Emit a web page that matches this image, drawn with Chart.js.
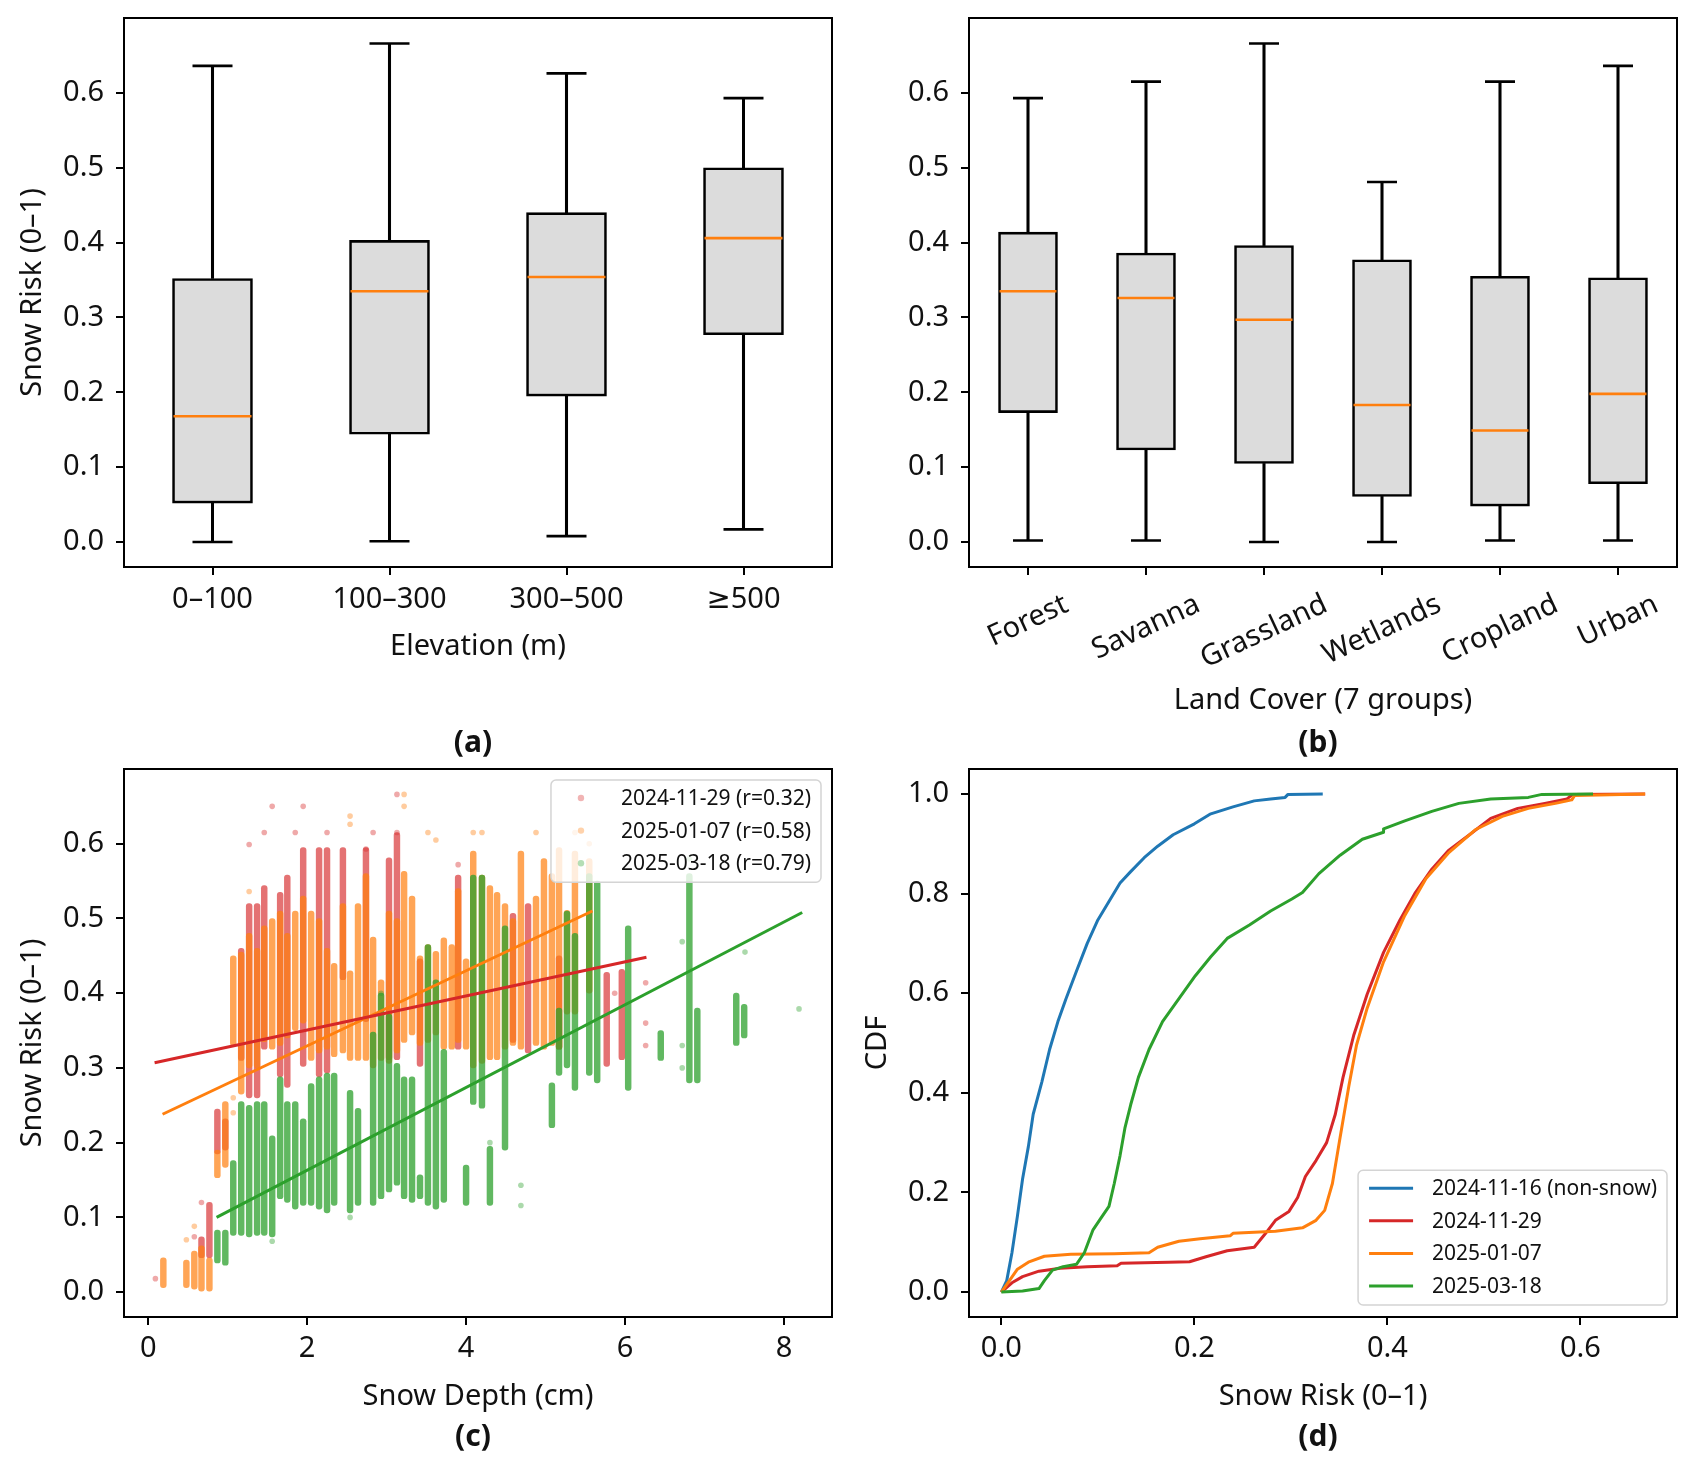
<!DOCTYPE html>
<html>
<head>
<meta charset="utf-8">
<script src="https://cdn.jsdelivr.net/npm/chart.js@4.4.1/dist/chart.umd.min.js"></script>
<style>
  body { margin: 0; background: #fff; width: 1690px; height: 1465px; position: relative; overflow: hidden; }
  canvas { position: absolute; }
</style>
</head>
<body>
<canvas id="chartA" width="845" height="770" style="left:0;top:0"></canvas>
<canvas id="chartB" width="845" height="770" style="left:845px;top:0"></canvas>
<canvas id="chartC" width="845" height="715" style="left:0;top:750px"></canvas>
<canvas id="chartD" width="845" height="715" style="left:845px;top:750px"></canvas>
<script>
// ---- (a) elevation boxplots
const elevGroups = ['0–100', '100–300', '300–500', '≥500'];
const elevMin = [0.000, 0.001, 0.008, 0.017];
const elevQ1  = [0.052, 0.144, 0.195, 0.277];
const elevMed = [0.168, 0.335, 0.354, 0.406];
const elevQ3  = [0.352, 0.403, 0.440, 0.500];
const elevMax = [0.636, 0.666, 0.626, 0.593];

// ---- (b) land cover boxplots
const landGroups = ['Forest', 'Savanna', 'Grassland', 'Wetlands', 'Cropland', 'Urban'];
const landMin = [0.002, 0.002, 0.000, 0.000, 0.002, 0.002];
const landQ1  = [0.173, 0.123, 0.105, 0.061, 0.048, 0.078];
const landMed = [0.335, 0.326, 0.297, 0.183, 0.149, 0.198];
const landQ3  = [0.414, 0.386, 0.396, 0.377, 0.355, 0.353];
const landMax = [0.593, 0.615, 0.666, 0.481, 0.615, 0.636];

// ---- (c) snow depth vs risk: dense columns [depth, low, high] + loose points [depth, risk]
const scatterLabels = ['2024-11-29 (r=0.32)', '2025-01-07 (r=0.58)', '2025-03-18 (r=0.79)'];
const redCols = [
  [0.67, 0.046, 0.074], [0.77, 0.046, 0.12], [0.87, 0.185, 0.245], [0.97, 0.19, 0.232],
  [1.17, 0.31, 0.46], [1.27, 0.26, 0.52], [1.37, 0.26, 0.52], [1.46, 0.325, 0.544],
  [1.66, 0.288, 0.535], [1.75, 0.274, 0.558], [1.95, 0.302, 0.595], [2.15, 0.288, 0.595],
  [2.25, 0.293, 0.595], [2.45, 0.418, 0.595], [2.74, 0.362, 0.595], [3.03, 0.311, 0.581],
  [3.13, 0.311, 0.615], [3.42, 0.302, 0.446], [3.90, 0.325, 0.558], [4.59, 0.334, 0.507],
  [4.78, 0.32, 0.52], [5.17, 0.325, 0.45], [5.77, 0.302, 0.428], [5.96, 0.311, 0.432]
];
const redPts = [
  [0.09, 0.018], [0.58, 0.074], [0.67, 0.12], [1.27, 0.599], [1.46, 0.615], [1.56, 0.65],
  [1.85, 0.615], [1.95, 0.65], [2.25, 0.615], [2.74, 0.593], [2.83, 0.615], [3.13, 0.666],
  [3.13, 0.615], [3.90, 0.572], [6.26, 0.414], [6.26, 0.36], [6.26, 0.33], [5.87, 0.40]
];
const orangeCols = [
  [0.19, 0.006, 0.046], [0.48, 0.006, 0.043], [0.58, 0.004, 0.055], [0.67, 0.0, 0.062],
  [0.77, 0.0, 0.046], [0.87, 0.153, 0.19], [0.97, 0.167, 0.255], [1.07, 0.33, 0.45],
  [1.17, 0.265, 0.455], [1.27, 0.30, 0.48], [1.37, 0.30, 0.46], [1.46, 0.335, 0.49],
  [1.56, 0.325, 0.50], [1.66, 0.33, 0.51], [1.75, 0.34, 0.48], [1.85, 0.35, 0.51],
  [1.95, 0.36, 0.53], [2.05, 0.31, 0.51], [2.15, 0.32, 0.50], [2.25, 0.325, 0.46],
  [2.34, 0.315, 0.44], [2.45, 0.32, 0.52], [2.54, 0.31, 0.43], [2.64, 0.31, 0.52],
  [2.74, 0.31, 0.56], [2.83, 0.30, 0.475], [2.93, 0.31, 0.418], [3.03, 0.306, 0.51],
  [3.13, 0.32, 0.50], [3.22, 0.334, 0.563], [3.32, 0.344, 0.53], [3.42, 0.33, 0.45],
  [3.52, 0.334, 0.465], [3.62, 0.344, 0.456], [3.72, 0.325, 0.474], [3.82, 0.325, 0.465],
  [3.90, 0.334, 0.54], [4.00, 0.325, 0.446], [4.09, 0.30, 0.59], [4.20, 0.306, 0.558],
  [4.30, 0.311, 0.544], [4.39, 0.311, 0.535], [4.49, 0.325, 0.52], [4.59, 0.33, 0.50],
  [4.69, 0.325, 0.59], [4.88, 0.33, 0.53], [4.98, 0.325, 0.58], [5.08, 0.33, 0.56],
  [5.17, 0.325, 0.595], [5.27, 0.372, 0.511], [5.37, 0.372, 0.59], [5.55, 0.40, 0.58]
];
const orangePts = [
  [0.58, 0.088], [0.48, 0.07], [1.27, 0.536], [2.54, 0.637], [2.54, 0.626], [3.22, 0.666],
  [3.22, 0.65], [3.52, 0.615], [3.62, 0.605], [4.09, 0.615], [4.20, 0.615], [4.88, 0.615],
  [5.37, 0.615], [5.55, 0.6], [1.07, 0.24], [1.07, 0.26]
];
const greenCols = [
  [0.87, 0.039, 0.083], [0.97, 0.036, 0.083], [1.07, 0.076, 0.176], [1.17, 0.076, 0.255],
  [1.27, 0.074, 0.25], [1.37, 0.076, 0.255], [1.46, 0.076, 0.255], [1.56, 0.074, 0.209],
  [1.66, 0.125, 0.288], [1.75, 0.12, 0.255], [1.85, 0.111, 0.255], [1.95, 0.116, 0.232],
  [2.05, 0.116, 0.279], [2.15, 0.111, 0.288], [2.25, 0.106, 0.293], [2.34, 0.116, 0.293],
  [2.54, 0.106, 0.27], [2.64, 0.116, 0.246], [2.83, 0.116, 0.348], [2.93, 0.125, 0.40],
  [3.03, 0.134, 0.372], [3.13, 0.143, 0.306], [3.22, 0.125, 0.288], [3.32, 0.12, 0.288],
  [3.42, 0.125, 0.157], [3.52, 0.116, 0.465], [3.62, 0.111, 0.418], [3.72, 0.12, 0.325],
  [4.00, 0.116, 0.17], [4.09, 0.251, 0.558], [4.20, 0.246, 0.558], [4.30, 0.116, 0.195],
  [4.49, 0.19, 0.49], [5.08, 0.22, 0.28], [5.17, 0.29, 0.38], [5.27, 0.30, 0.51],
  [5.37, 0.27, 0.48], [5.55, 0.29, 0.56], [5.65, 0.28, 0.55], [6.04, 0.27, 0.49],
  [6.45, 0.31, 0.35], [6.81, 0.28, 0.56], [6.91, 0.28, 0.38], [7.40, 0.33, 0.40],
  [7.50, 0.34, 0.385]
];
const greenPts = [
  [4.69, 0.143], [4.69, 0.116], [2.93, 0.40], [6.72, 0.469], [6.72, 0.30], [6.72, 0.33],
  [7.51, 0.455], [8.19, 0.379], [2.54, 0.10], [6.81, 0.58], [1.56, 0.068], [4.30, 0.20]
];
// fitted lines [depth, risk] end points
const redFit = [[0.08, 0.307], [6.27, 0.448]];
const orangeFit = [[0.18, 0.238], [5.59, 0.51]];
const greenFit = [[0.86, 0.10], [8.23, 0.508]];

// ---- (d) CDF curves [risk, cdf]
const cdfLabels = ['2024-11-16 (non-snow)', '2024-11-29', '2025-01-07', '2025-03-18'];
const cdfBlue = [
  [0, 0], [0.0056, 0.023], [0.011, 0.079], [0.0167, 0.153], [0.022, 0.227], [0.028, 0.292],
  [0.033, 0.357], [0.042, 0.422], [0.050, 0.487], [0.0586, 0.543], [0.067, 0.589], [0.078, 0.645],
  [0.089, 0.70], [0.10, 0.747], [0.1115, 0.784], [0.123, 0.821], [0.134, 0.844], [0.148, 0.872],
  [0.162, 0.895], [0.178, 0.918], [0.20, 0.94], [0.217, 0.96], [0.24, 0.974], [0.262, 0.986],
  [0.279, 0.990], [0.294, 0.993], [0.297, 0.999], [0.333, 1.0]
];
const cdfRed = [
  [0, 0], [0.011, 0.0186], [0.022, 0.031], [0.039, 0.042], [0.061, 0.048], [0.089, 0.051],
  [0.12, 0.053], [0.124, 0.058], [0.173, 0.060], [0.195, 0.061], [0.212, 0.071], [0.234, 0.083],
  [0.262, 0.090], [0.273, 0.116], [0.284, 0.144], [0.298, 0.162], [0.307, 0.19], [0.315, 0.232],
  [0.326, 0.264], [0.337, 0.30], [0.346, 0.357], [0.354, 0.431], [0.365, 0.515], [0.379, 0.598],
  [0.396, 0.682], [0.413, 0.747], [0.429, 0.802], [0.446, 0.849], [0.463, 0.886], [0.485, 0.918],
  [0.507, 0.951], [0.535, 0.971], [0.563, 0.981], [0.586, 0.99], [0.592, 0.999], [0.667, 1.0]
];
const cdfOrange = [
  [0, 0], [0.0084, 0.023], [0.0167, 0.046], [0.028, 0.060], [0.0446, 0.072], [0.072, 0.076],
  [0.117, 0.077], [0.153, 0.079], [0.162, 0.090], [0.184, 0.102], [0.206, 0.107], [0.237, 0.113],
  [0.24, 0.118], [0.284, 0.122], [0.312, 0.129], [0.326, 0.144], [0.335, 0.164], [0.343, 0.218],
  [0.351, 0.311], [0.36, 0.413], [0.368, 0.496], [0.379, 0.57], [0.396, 0.663], [0.418, 0.756],
  [0.44, 0.83], [0.463, 0.881], [0.491, 0.928], [0.519, 0.955], [0.546, 0.971], [0.574, 0.981],
  [0.591, 0.988], [0.594, 0.997], [0.667, 1.0]
];
const cdfGreen = [
  [0, 0], [0.022, 0.002], [0.039, 0.007], [0.0446, 0.023], [0.053, 0.044], [0.064, 0.051],
  [0.078, 0.056], [0.086, 0.079], [0.095, 0.125], [0.103, 0.148], [0.1115, 0.172], [0.117, 0.218],
  [0.123, 0.274], [0.128, 0.329], [0.134, 0.376], [0.142, 0.431], [0.153, 0.487], [0.167, 0.543],
  [0.184, 0.589], [0.201, 0.635], [0.217, 0.673], [0.234, 0.71], [0.257, 0.737], [0.279, 0.765],
  [0.301, 0.789], [0.312, 0.802], [0.329, 0.84], [0.351, 0.877], [0.374, 0.909], [0.396, 0.923],
  [0.396, 0.930], [0.418, 0.946], [0.446, 0.965], [0.474, 0.981], [0.507, 0.99], [0.546, 0.993],
  [0.56, 0.999], [0.613, 1.0]
];

// tick values
const riskTicks = [0, 0.1, 0.2, 0.3, 0.4, 0.5, 0.6];
const depthTicks = [0, 2, 4, 6, 8];
const cdfXTicks = [0, 0.2, 0.4, 0.6];
const cdfYTicks = [0, 0.2, 0.4, 0.6, 0.8, 1.0];

const RED = '#d62728', ORANGE = '#ff7f0e', GREEN = '#2ca02c', BLUE = '#1f77b4';
function rgba(hex, a) {
  const n = parseInt(hex.slice(1), 16);
  return 'rgba(' + (n >> 16) + ',' + ((n >> 8) & 255) + ',' + (n & 255) + ',' + a + ')';
}
const FONT = "'Noto Sans', 'DejaVu Sans', sans-serif";

Chart.defaults.animation = false;
Chart.defaults.font.family = FONT;
Chart.defaults.font.size = 29;
Chart.defaults.color = '#111';
Chart.defaults.plugins.legend.display = false;
Chart.defaults.plugins.tooltip.enabled = false;

// black box around the plot area, like matplotlib spines
const frame = {
  id: 'frame',
  afterDraw(chart) {
    const { ctx, chartArea: a } = chart;
    ctx.save();
    ctx.strokeStyle = '#000';
    ctx.lineWidth = 2;
    ctx.strokeRect(a.left, a.top, a.right - a.left, a.bottom - a.top);
    ctx.restore();
  }
};

const panelTag = {
  id: 'panelTag',
  afterDraw(chart, args, o) {
    if (!o.text) return;
    const { ctx, chartArea: a } = chart;
    ctx.save();
    ctx.font = 'bold 30px ' + FONT;
    ctx.fillStyle = '#111';
    ctx.textAlign = 'center';
    ctx.textBaseline = 'middle';
    ctx.fillText(o.text, (a.left + a.right) / 2 - 5, o.y);
    ctx.restore();
  }
};

// slanted category labels centred on their tick
const slantTicks = {
  id: 'slantTicks',
  afterDraw(chart, args, o) {
    if (!o.labels) return;
    const { ctx, chartArea: a } = chart;
    const s = chart.scales.x;
    const ang = o.angle * Math.PI / 180;
    ctx.save();
    ctx.font = '29px ' + FONT;
    ctx.fillStyle = '#111';
    ctx.textAlign = 'center';
    ctx.textBaseline = 'middle';
    o.labels.forEach((t, i) => {
      const w = ctx.measureText(t).width;
      ctx.save();
      ctx.translate(s.getPixelForTick(i), a.bottom + o.offset + w * Math.sin(ang) / 2);
      ctx.rotate(-ang);
      ctx.fillText(t, 0, 0);
      ctx.restore();
    });
    ctx.restore();
  }
};

const boxLegend = {
  id: 'boxLegend',
  afterDraw(chart, args, o) {
    if (!o.items) return;
    const { ctx, chartArea: a } = chart;
    ctx.save();
    ctx.font = '21px ' + FONT;
    const tw = Math.max(...o.items.map(it => ctx.measureText(it.text).width));
    const w = o.textX + tw + 10;
    const h = 18 + (o.items.length - 1) * 32.6 + 19;
    const x = a.right - o.right - w;
    const y = o.top != null ? a.top + o.top : a.bottom - o.bottom - h;
    ctx.beginPath();
    ctx.roundRect(x, y, w, h, 5);
    ctx.fillStyle = 'rgba(255,255,255,0.8)';
    ctx.fill();
    ctx.strokeStyle = '#d4d4d4';
    ctx.lineWidth = 1.5;
    ctx.stroke();
    o.items.forEach((it, i) => {
      const cy = y + 18 + i * 32.6;
      if (it.kind === 'dot') {
        ctx.beginPath();
        ctx.arc(x + o.markX, cy, 3.2, 0, 2 * Math.PI);
        ctx.fillStyle = it.color;
        ctx.fill();
      } else {
        ctx.beginPath();
        ctx.moveTo(x + o.markX, cy);
        ctx.lineTo(x + o.markX + 44, cy);
        ctx.strokeStyle = it.color;
        ctx.lineWidth = 3;
        ctx.stroke();
      }
      ctx.fillStyle = '#111';
      ctx.textAlign = 'left';
      ctx.textBaseline = 'middle';
      ctx.fillText(it.text, x + o.textX, cy + 1);
    });
    ctx.restore();
  }
};

const tickGrid = { drawOnChartArea: false, tickLength: 8, color: '#000', lineWidth: 2, offset: false };

// fixed axis box size, and no extra padding asked of the layout for edge labels
function fixSize(fit) {
  return s => {
    if (fit.width) s.width = fit.width; else s.height = fit.height;
    s.paddingTop = 0; s.paddingBottom = 0; s.paddingLeft = 0; s.paddingRight = 0;
  };
}

function linAxis(min, max, ticks, digits, fit, title, titlePad) {
  return {
    type: 'linear', min: min, max: max, offset: false,
    afterBuildTicks: s => { s.ticks = ticks.map(v => ({ value: v })); },
    afterFit: fixSize(fit),
    ticks: { padding: fit.width ? 12 : 6, callback: v => v.toFixed(digits) },
    grid: tickGrid,
    border: { display: false },
    title: { display: !!title, text: title || '', padding: titlePad }
  };
}

function boxSets(mins, q1s, meds, q3s, maxs, width, capR) {
  const whisker = { type: 'bar', backgroundColor: '#000', barThickness: 2.4, maxBarThickness: 2.4, grouped: false, order: 3 };
  const cap = { type: 'line', showLine: false, pointStyle: 'line', pointRadius: capR, pointBorderWidth: 2.6, pointBorderColor: '#000', order: 1 };
  return [
    Object.assign({ data: mins.map((v, i) => [v, q1s[i]]) }, whisker),
    Object.assign({ data: q3s.map((v, i) => [v, maxs[i]]) }, whisker),
    {
      type: 'bar', data: q1s.map((v, i) => [v, q3s[i]]),
      backgroundColor: '#dcdcdc', borderColor: '#000', borderWidth: 2.6, borderSkipped: false,
      barThickness: width, maxBarThickness: width, grouped: false, order: 2
    },
    Object.assign({ data: mins }, cap),
    Object.assign({ data: maxs }, cap),
    {
      type: 'line', data: meds, showLine: false, pointStyle: 'line', pointRadius: width / 2 - 1,
      pointBorderWidth: 2.6, pointBorderColor: ORANGE, order: 0
    }
  ];
}

// (a)
new Chart(document.getElementById('chartA'), {
  type: 'bar',
  data: { labels: elevGroups, datasets: boxSets(elevMin, elevQ1, elevMed, elevQ3, elevMax, 80, 20) },
  options: {
    responsive: false,
    layout: { autoPadding: false, padding: { top: 18, right: 13, left: 0, bottom: 0 } },
    scales: {
      x: {
        type: 'category', offset: true, grid: tickGrid, border: { display: false },
        ticks: { padding: 7, maxRotation: 0, autoSkip: false },
        afterFit: fixSize({ height: 203 }),
        title: { display: true, text: 'Elevation (m)', padding: { top: 0, bottom: 106 } }
      },
      y: linAxis(-0.0333, 0.70, riskTicks, 1, { width: 124 }, 'Snow Risk (0–1)', { top: 15, bottom: 0 })
    },
    plugins: { panelTag: { text: '(a)', y: 743 } }
  },
  plugins: [frame, panelTag]
});

// (b)
new Chart(document.getElementById('chartB'), {
  type: 'bar',
  data: { labels: landGroups, datasets: boxSets(landMin, landQ1, landMed, landQ3, landMax, 59, 15) },
  options: {
    responsive: false,
    layout: { autoPadding: false, padding: { top: 18, right: 13, left: 0, bottom: 0 } },
    scales: {
      x: {
        type: 'category', offset: true, grid: tickGrid, border: { display: false },
        ticks: { display: false },
        afterFit: fixSize({ height: 203 }),
        title: { display: true, text: 'Land Cover (7 groups)', padding: { top: 0, bottom: 52 } }
      },
      y: linAxis(-0.0333, 0.70, riskTicks, 1, { width: 124 }, '', { top: 15, bottom: 0 })
    },
    plugins: {
      panelTag: { text: '(b)', y: 743 },
      slantTicks: { labels: landGroups, angle: 25, offset: 36 }
    }
  },
  plugins: [frame, slantTicks, panelTag]
});

// (c)
function colSet(cols, color, alpha, order) {
  return {
    type: 'bar', data: cols.map(c => ({ x: c[0], y: [c[1], c[2]] })),
    backgroundColor: rgba(color, alpha), borderWidth: 0, borderRadius: 3, borderSkipped: false,
    barThickness: 5.8, maxBarThickness: 5.8, grouped: false, order: order
  };
}
function ptSet(pts, color, order) {
  return {
    type: 'scatter', data: pts.map(p => ({ x: p[0], y: p[1] })),
    backgroundColor: rgba(color, 0.4), borderWidth: 0, pointRadius: 2.8, order: order
  };
}
function fitSet(pts, color) {
  return {
    type: 'line', data: pts.map(p => ({ x: p[0], y: p[1] })), showLine: true,
    borderColor: color, borderWidth: 3, pointRadius: 0, fill: false, order: 0
  };
}
new Chart(document.getElementById('chartC'), {
  type: 'scatter',
  data: {
    datasets: [
      colSet(redCols, RED, 0.65, 6), ptSet(redPts, RED, 5),
      colSet(orangeCols, ORANGE, 0.7, 4), ptSet(orangePts, ORANGE, 3),
      colSet(greenCols, GREEN, 0.75, 2), ptSet(greenPts, GREEN, 1),
      fitSet(redFit, RED), fitSet(orangeFit, ORANGE), fitSet(greenFit, GREEN)
    ]
  },
  options: {
    responsive: false,
    layout: { autoPadding: false, padding: { top: 19, right: 13, left: 0, bottom: 0 } },
    scales: {
      x: linAxis(-0.305, 8.605, depthTicks, 0, { height: 148 }, 'Snow Depth (cm)', { top: 0, bottom: 51 }),
      y: linAxis(-0.0333, 0.70, riskTicks, 1, { width: 124 }, 'Snow Risk (0–1)', { top: 15, bottom: 0 })
    },
    plugins: {
      panelTag: { text: '(c)', y: 687 },
      boxLegend: {
        top: 11, right: 11, markX: 30, textX: 70,
        items: [
          { text: scatterLabels[0], color: rgba(RED, 0.35), kind: 'dot' },
          { text: scatterLabels[1], color: rgba(ORANGE, 0.35), kind: 'dot' },
          { text: scatterLabels[2], color: rgba(GREEN, 0.35), kind: 'dot' }
        ]
      }
    }
  },
  plugins: [frame, boxLegend, panelTag]
});

// (d)
function cdfSet(pts, color, order) {
  return {
    data: pts.map(p => ({ x: p[0], y: p[1] })), borderColor: color, borderWidth: 3,
    pointRadius: 0, fill: false, tension: 0, borderJoinStyle: 'round', order: order
  };
}
new Chart(document.getElementById('chartD'), {
  type: 'line',
  data: {
    datasets: [
      cdfSet(cdfBlue, BLUE, 3), cdfSet(cdfRed, RED, 2),
      cdfSet(cdfOrange, ORANGE, 1), cdfSet(cdfGreen, GREEN, 0)
    ]
  },
  options: {
    responsive: false,
    layout: { autoPadding: false, padding: { top: 19, right: 13, left: 0, bottom: 0 } },
    scales: {
      x: linAxis(-0.0335, 0.70, cdfXTicks, 1, { height: 148 }, 'Snow Risk (0–1)', { top: 0, bottom: 51 }),
      y: linAxis(-0.05, 1.05, cdfYTicks, 1, { width: 124 }, 'CDF', { top: 15, bottom: 0 })
    },
    plugins: {
      panelTag: { text: '(d)', y: 687 },
      boxLegend: {
        bottom: 12, right: 10, markX: 11, textX: 74,
        items: [
          { text: cdfLabels[0], color: BLUE, kind: 'line' },
          { text: cdfLabels[1], color: RED, kind: 'line' },
          { text: cdfLabels[2], color: ORANGE, kind: 'line' },
          { text: cdfLabels[3], color: GREEN, kind: 'line' }
        ]
      }
    }
  },
  plugins: [frame, boxLegend, panelTag]
});
</script>
</body>
</html>
